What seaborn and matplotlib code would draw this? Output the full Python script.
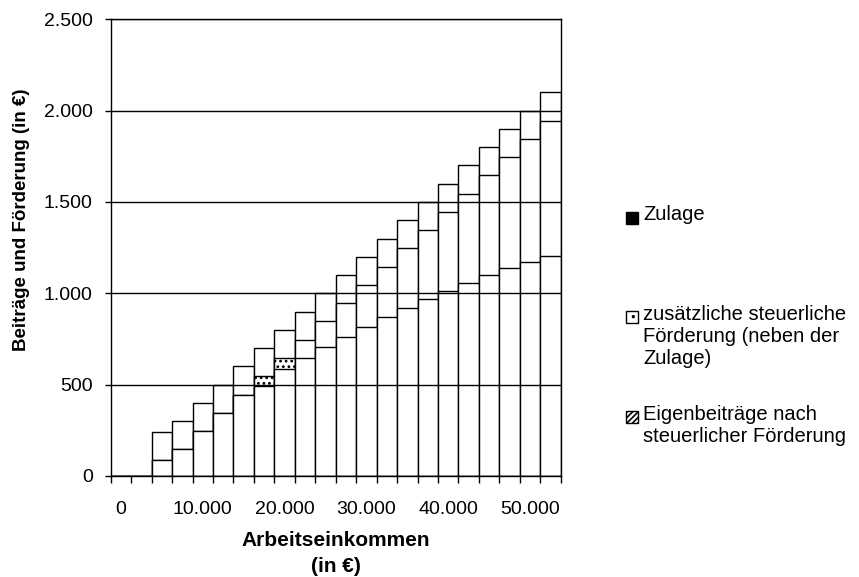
import pandas as pd
import matplotlib.pyplot as plt
import seaborn as sns
from matplotlib.patches import Rectangle
from matplotlib.ticker import FuncFormatter

einkommen = [i * 2500 for i in range(22)]
eigenbeitrag = [0, 0, 88, 146, 246, 346, 446, 495, 586, 644, 706, 761,
                816, 869, 920, 967, 1013, 1055, 1099, 1137, 1172, 1206]
zusatz_foerderung = [0, 0, 0, 0, 0, 0, 0, 51, 60, 102, 140, 185,
                     230, 277, 326, 379, 433, 491, 547, 609, 674, 740]
zulage = [0, 0] + [154] * 20
x_labels = ["0", "10.000", "20.000", "30.000", "40.000", "50.000"]
legend_labels = ["Zulage",
                 "zusätzliche steuerliche\nFörderung (neben der\nZulage)",
                 "Eigenbeiträge nach\nsteuerlicher Förderung"]

df = pd.DataFrame({"einkommen": einkommen, "eigen": eigenbeitrag,
                   "zusatz": zusatz_foerderung, "zulage": zulage})
df["kat"] = df["einkommen"].astype(str)
df["mitte"] = df["eigen"] + df["zusatz"]
df["gesamt"] = df["mitte"] + df["zulage"]

sns.set_style("ticks")
plt.rcParams["font.family"] = ["Liberation Sans", "DejaVu Sans"]
plt.rcParams["text.color"] = "black"
plt.rcParams["xtick.color"] = "black"
plt.rcParams["ytick.color"] = "black"
plt.rcParams["axes.labelcolor"] = "black"
plt.rcParams["hatch.linewidth"] = 1.2

fig = plt.figure(figsize=(8.59, 5.77), dpi=100)
ax = fig.add_axes([110.7 / 859, 101 / 577, 450 / 859, 456.7 / 577])

bar_kws = dict(x="kat", order=list(df["kat"]), color="white", saturation=1,
               edgecolor="black", linewidth=1.0, width=1.0, errorbar=None, ax=ax)
sns.barplot(data=df, y="gesamt", **bar_kws)
n_before = len(ax.patches)
sns.barplot(data=df, y="mitte", **bar_kws)
# nur zwei Segmente zeigen das Punktmuster
for i in (7, 8):
    ax.patches[n_before + i].set_hatch("...")
sns.barplot(data=df, y="eigen", **bar_kws)

ax.set_axisbelow(False)
ax.set_xlim(-0.5, 21.5)
ax.set_ylim(0, 2500)
ax.set_yticks(range(0, 2501, 500))
ax.yaxis.set_major_formatter(FuncFormatter(lambda v, p: f"{v:,.0f}".replace(",", ".")))
ax.grid(axis="y", color="black", linewidth=1.0)

ax.set_xticks([i - 0.5 for i in range(23)])
ax.set_xticklabels([])
ax.set_xticks(range(0, 21, 4), minor=True)
ax.set_xticklabels(x_labels, minor=True)
ax.tick_params(axis="x", which="major", direction="out", length=5, width=1)
ax.tick_params(axis="x", which="minor", length=0, pad=18, labelsize=14)
ax.tick_params(axis="y", direction="out", length=4, width=1, pad=9, labelsize=14)

for s in ax.spines.values():
    s.set_visible(True)
    s.set_color("black")
    s.set_linewidth(1.0)

ax.set_xlabel("Arbeitseinkommen\n(in €)", fontsize=15, fontweight="bold", linespacing=1.45)
ax.xaxis.set_label_coords(0.5, -0.12)
ax.set_ylabel("Beiträge und Förderung (in €)", fontsize=13.5, fontweight="bold")
ax.yaxis.label.set_va("center")
ax.yaxis.set_label_coords((22 - 110.7) / 450, (476 - 220) / 456.7)

# Legende
marker_styles = [dict(facecolor="black", hatch=None),
                 dict(facecolor="white", hatch=".."),
                 dict(facecolor="white", hatch="//////")]
marker_y = [217.5, 316.5, 416.5]
for lab, sty, y in zip(legend_labels, marker_styles, marker_y):
    fig.add_artist(Rectangle((626 / 859, 1 - (y + 6) / 577), 12 / 859, 12 / 577,
                             transform=fig.transFigure, edgecolor="black",
                             linewidth=1.0, **sty))
    fig.text(643 / 859, 1 - (y - 12) / 577, lab, fontsize=14.5, va="top",
             ha="left", linespacing=1.2)

fig.savefig("out.png", dpi=100)
